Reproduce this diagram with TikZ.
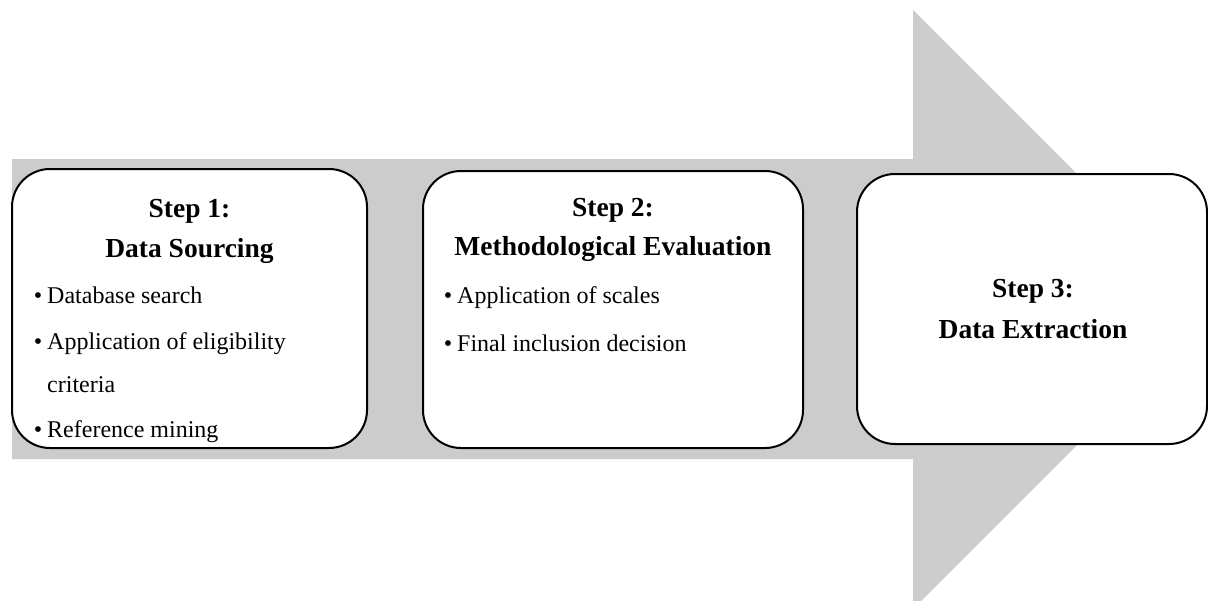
\documentclass[tikz,border=0pt]{standalone}
\usepackage{fontspec}
\setmainfont{Liberation Serif}
\definecolor{arrowgray}{RGB}{204,204,204}
\begin{document}
\begin{tikzpicture}[x=1pt,y=-1pt,
  stepbox/.style={draw=black, line width=2pt, fill=white, rounded corners=38pt, inner sep=0pt},
  titletext/.style={anchor=base, inner sep=0pt, font=\fontsize{27.5}{33}\selectfont\bfseries},
  itemtext/.style={anchor=base west, inner sep=0pt, font=\fontsize{24}{30}\selectfont},
  bullettext/.style={anchor=base, inner sep=0pt, font=\fontsize{24}{30}\selectfont}
]
\useasboundingbox (0,0) rectangle (1208,600);
\clip (0,0) rectangle (1208,600);
\fill[white] (0,0) rectangle (1208,600);
% big arrow
\fill[arrowgray] (12,159) -- (913,159) -- (913,10) -- (1212.5,309.5) -- (913,609) -- (913,459) -- (12,459) -- cycle;
% boxes
\node[stepbox, minimum width=355pt, minimum height=279pt] (box1) at (189.5,308.5) {};
\node[stepbox, minimum width=380pt, minimum height=277pt] (box2) at (613,309.5) {};
\node[stepbox, minimum width=350pt, minimum height=270pt] (box3) at (1032,309) {};
% box 1 text
\node[titletext] (t1a) at (189.5,217) {Step 1:};
\node[titletext] (t1b) at (189.5,257) {Data Sourcing};
\node[bullettext] (b1a) at (38,303) {•};
\node[itemtext] (i1a) at (47,303) {Database search};
\node[bullettext] (b1b) at (38,349) {•};
\node[itemtext] (i1b) at (47,349) {Application of eligibility};
\node[itemtext] (i1c) at (47,392) {criteria};
\node[bullettext] (b1c) at (38,437) {•};
\node[itemtext] (i1d) at (47,437) {Reference mining};
% box 2 text
\node[titletext] (t2a) at (613,216) {Step 2:};
\node[titletext] (t2b) at (613,255) {Methodological Evaluation};
\node[bullettext] (b2a) at (448,303) {•};
\node[itemtext] (i2a) at (457,303) {Application of scales};
\node[bullettext] (b2b) at (448,351) {•};
\node[itemtext] (i2b) at (457,351) {Final inclusion decision};
% box 3 text
\node[titletext] (t3a) at (1033,297) {Step 3:};
\node[titletext] (t3b) at (1033,338) {Data Extraction};
\end{tikzpicture}
\end{document}
